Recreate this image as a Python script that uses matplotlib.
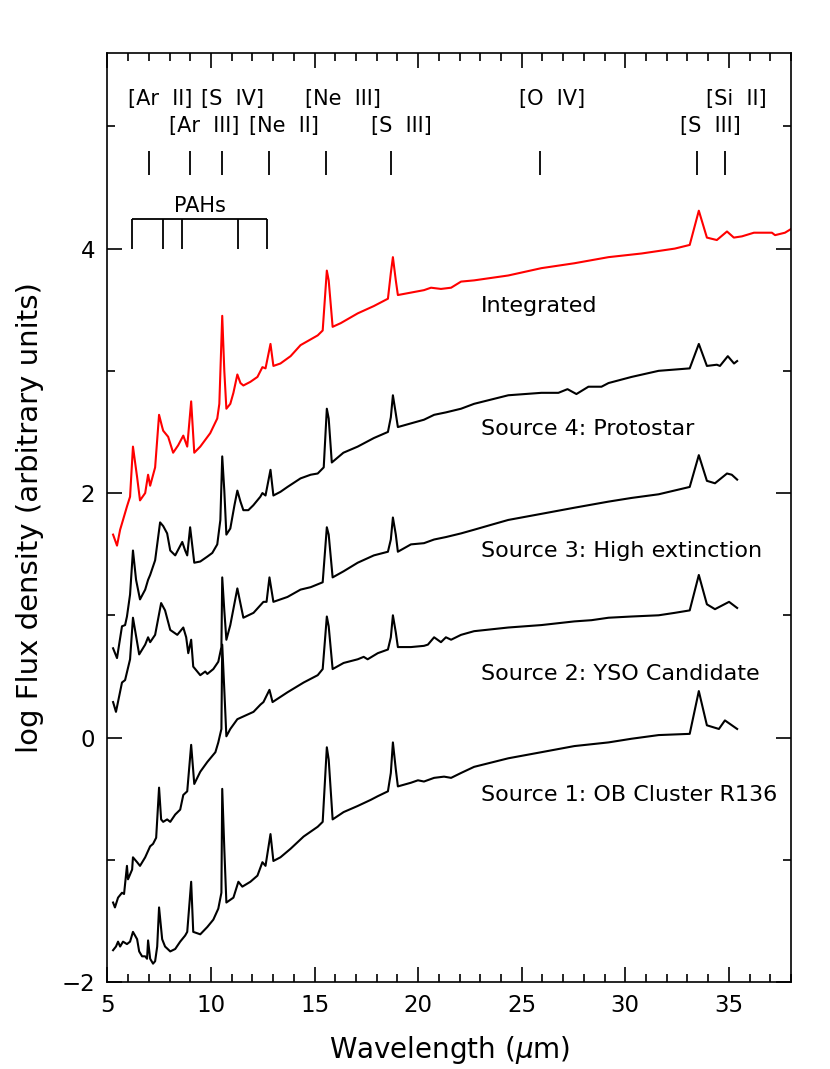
import matplotlib
matplotlib.use('Agg')
import matplotlib.pyplot as plt
from matplotlib.ticker import MultipleLocator

plt.rcParams['font.family'] = 'DejaVu Sans'

# Integrated spectrum (red)
wl_int = [5.27, 5.46, 5.61, 5.75, 5.94, 6.09, 6.23, 6.43, 6.57, 6.82, 6.96, 7.06, 7.30, 7.49, 7.64,
          7.69, 7.93, 8.17, 8.41, 8.66, 8.85, 9.04, 9.19, 9.48, 9.96, 10.30, 10.40, 10.54, 10.64,
          10.74, 10.93, 11.08, 11.27, 11.42, 11.56, 11.90, 12.24, 12.48, 12.63, 12.87, 13.01, 13.35,
          13.84, 14.32, 15.15, 15.39, 15.59, 15.68, 15.87, 16.26, 17.08, 17.86, 18.54, 18.68, 18.78,
          18.92, 19.02, 19.65, 20.28, 20.62, 21.10, 21.59, 22.07, 22.70, 24.35, 25.95, 27.54, 29.19,
          30.79, 32.39, 33.11, 33.55, 33.94, 34.42, 34.91, 35.24, 35.63, 36.21, 37.08, 37.23, 37.71, 38.0]
flux_int = [1.66, 1.57, 1.70, 1.78, 1.89, 1.97, 2.38, 2.13, 1.94, 2.00, 2.15, 2.06, 2.21, 2.64, 2.54,
            2.51, 2.46, 2.33, 2.39, 2.47, 2.38, 2.75, 2.33, 2.38, 2.49, 2.61, 2.73, 3.45, 3.00,
            2.69, 2.73, 2.82, 2.97, 2.90, 2.88, 2.91, 2.95, 3.03, 3.02, 3.22, 3.04, 3.06,
            3.12, 3.21, 3.29, 3.33, 3.82, 3.74, 3.36, 3.39, 3.47, 3.53, 3.59, 3.80, 3.93,
            3.74, 3.62, 3.64, 3.66, 3.68, 3.67, 3.68, 3.73, 3.74, 3.78, 3.84, 3.88, 3.93,
            3.96, 4.00, 4.03, 4.31, 4.09, 4.07, 4.14, 4.09, 4.10, 4.13, 4.13, 4.11, 4.13, 4.16]

# Source 4: Protostar
wl_s4 = [5.27, 5.46, 5.70, 5.85, 5.94, 6.09, 6.23, 6.38, 6.57, 6.82, 6.96, 7.06, 7.30, 7.54, 7.69,
         7.88, 8.03, 8.27, 8.61, 8.75, 8.85, 8.99, 9.19, 9.48, 9.82, 10.06, 10.30, 10.45, 10.54,
         10.64, 10.74, 10.93, 11.13, 11.27, 11.42, 11.56, 11.80, 12.04, 12.38, 12.48, 12.63, 12.87,
         13.01, 13.35, 13.69, 14.32, 14.81, 15.15, 15.44, 15.59, 15.68, 15.83, 16.39, 17.08, 17.86,
         18.54, 18.68, 18.78, 18.92, 19.02, 19.65, 20.28, 20.77, 21.34, 22.07, 22.70, 24.35, 25.95,
         26.77, 27.21, 27.64, 28.22, 28.85, 29.19, 30.30, 31.61, 33.11, 33.55, 33.94, 34.42, 34.57,
         34.95, 35.25, 35.40]
flux_s4 = [0.73, 0.65, 0.91, 0.92, 0.99, 1.17, 1.53, 1.29, 1.13, 1.21, 1.29, 1.33, 1.45, 1.76, 1.73,
           1.67, 1.53, 1.49, 1.60, 1.53, 1.49, 1.72, 1.43, 1.44, 1.48, 1.51, 1.58, 1.78, 2.30,
           2.02, 1.66, 1.71, 1.90, 2.02, 1.93, 1.86, 1.86, 1.90, 1.97, 2.00, 1.98, 2.19,
           1.98, 2.01, 2.05, 2.12, 2.15, 2.16, 2.21, 2.69, 2.61, 2.25, 2.33, 2.38, 2.45,
           2.50, 2.62, 2.80, 2.65, 2.54, 2.57, 2.60, 2.64, 2.66, 2.69, 2.73, 2.80, 2.82,
           2.82, 2.85, 2.81, 2.87, 2.87, 2.90, 2.95, 3.00, 3.02, 3.22, 3.04, 3.05, 3.04,
           3.12, 3.06, 3.08]

# Source 3: High extinction
wl_s3 = [5.27, 5.41, 5.70, 5.85, 6.09, 6.23, 6.53, 6.82, 6.96, 7.06, 7.30, 7.59, 7.78, 8.03, 8.37,
         8.66, 8.80, 8.90, 9.04, 9.14, 9.48, 9.72, 9.82, 10.11, 10.35, 10.50, 10.54, 10.64, 10.74,
         10.93, 11.27, 11.56, 12.05, 12.53, 12.68, 12.82, 13.01, 13.69, 14.32, 14.81, 15.39, 15.59,
         15.68, 15.87, 16.40, 17.08, 17.86, 18.54, 18.68, 18.78, 18.92, 19.02, 19.65, 20.28, 20.77,
         21.34, 22.07, 22.70, 23.52, 24.35, 25.95, 27.54, 29.19, 30.30, 31.61, 33.11, 33.55, 33.94,
         34.33, 34.91, 35.14, 35.40]
flux_s3 = [0.29, 0.21, 0.45, 0.47, 0.64, 0.98, 0.68, 0.76, 0.82, 0.78, 0.84, 1.10, 1.04, 0.88, 0.84,
           0.90, 0.82, 0.69, 0.80, 0.58, 0.51, 0.54, 0.52, 0.56, 0.62, 0.74, 1.31, 1.04, 0.80,
           0.92, 1.22, 0.98, 1.02, 1.11, 1.11, 1.31, 1.11, 1.15, 1.21, 1.23, 1.27, 1.72,
           1.66, 1.31, 1.36, 1.43, 1.49, 1.52, 1.62, 1.80, 1.66, 1.52, 1.58, 1.59, 1.62,
           1.64, 1.67, 1.70, 1.74, 1.78, 1.83, 1.88, 1.93, 1.96, 1.99, 2.05, 2.31, 2.10,
           2.08, 2.16, 2.15, 2.11]

# Source 2: YSO Candidate
wl_s2 = [5.27, 5.36, 5.51, 5.70, 5.80, 5.94, 5.99, 6.19, 6.23, 6.43, 6.57, 6.82, 7.06, 7.20, 7.35,
         7.49, 7.59, 7.69, 7.88, 8.03, 8.27, 8.51, 8.66, 8.85, 9.04, 9.19, 9.48, 9.82, 10.21, 10.35,
         10.50, 10.54, 10.64, 10.74, 10.93, 11.27, 11.66, 12.05, 12.39, 12.53, 12.82, 12.97, 13.69,
         14.47, 15.15, 15.39, 15.59, 15.68, 15.87, 16.40, 17.08, 17.37, 17.56, 18.05, 18.54, 18.68,
         18.78, 18.92, 19.02, 19.65, 20.28, 20.47, 20.77, 21.10, 21.34, 21.59, 22.07, 22.70, 24.35,
         25.95, 27.54, 28.37, 29.19, 30.30, 31.61, 32.39, 33.11, 33.55, 33.94, 34.33, 35.01, 35.40]
flux_s2 = [-1.35, -1.39, -1.31, -1.27, -1.28, -1.05, -1.16, -1.08, -0.98, -1.02, -1.05, -0.98, -0.89, -0.87, -0.82,
           -0.41, -0.67, -0.69, -0.67, -0.69, -0.63, -0.59, -0.47, -0.44, -0.06, -0.38, -0.28, -0.20, -0.12, -0.04,
           0.07, 0.76, 0.39, 0.01, 0.07, 0.15, 0.18, 0.21, 0.27, 0.29, 0.39, 0.29, 0.37,
           0.45, 0.51, 0.56, 0.99, 0.91, 0.56, 0.61, 0.64, 0.66, 0.64, 0.69, 0.72, 0.82,
           1.00, 0.86, 0.74, 0.74, 0.75, 0.76, 0.82, 0.78, 0.82, 0.80, 0.84, 0.87, 0.90,
           0.92, 0.95, 0.96, 0.98, 0.99, 1.00, 1.02, 1.04, 1.33, 1.09, 1.05, 1.11, 1.06]

# Source 1: OB Cluster R136
wl_s1 = [5.27, 5.41, 5.51, 5.61, 5.75, 5.94, 6.09, 6.23, 6.43, 6.53, 6.67, 6.82, 6.91, 6.96, 7.06,
         7.20, 7.30, 7.40, 7.49, 7.64, 7.78, 8.03, 8.27, 8.51, 8.75, 8.85, 9.04, 9.14, 9.48, 9.82,
         10.11, 10.35, 10.50, 10.54, 10.64, 10.74, 11.08, 11.32, 11.51, 11.90, 12.24, 12.48, 12.63,
         12.87, 13.01, 13.35, 13.84, 14.47, 15.15, 15.39, 15.59, 15.68, 15.87, 16.40, 17.08, 17.71,
         18.05, 18.54, 18.68, 18.78, 18.92, 19.02, 19.65, 19.99, 20.28, 20.77, 21.25, 21.59, 22.07,
         22.70, 24.35, 25.95, 27.54, 29.19, 30.30, 31.61, 33.11, 33.55, 33.94, 34.52, 34.81, 35.40]
flux_s1 = [-1.74, -1.71, -1.67, -1.71, -1.67, -1.69, -1.67, -1.59, -1.65, -1.75, -1.79, -1.79, -1.81, -1.66, -1.81,
           -1.85, -1.83, -1.71, -1.39, -1.65, -1.71, -1.75, -1.73, -1.67, -1.62, -1.59, -1.18, -1.59, -1.61, -1.55,
           -1.49, -1.40, -1.27, -0.42, -0.91, -1.35, -1.31, -1.18, -1.22, -1.18, -1.13, -1.02, -1.05,
           -0.79, -1.01, -0.98, -0.91, -0.81, -0.73, -0.69, -0.08, -0.18, -0.67, -0.61, -0.56, -0.51,
           -0.48, -0.44, -0.29, -0.04, -0.26, -0.40, -0.37, -0.35, -0.36, -0.33, -0.32, -0.33, -0.29,
           -0.24, -0.17, -0.12, -0.07, -0.04, -0.01, 0.02, 0.03, 0.38, 0.10, 0.07, 0.14, 0.07]

spec_labels = ['Integrated', 'Source 4: Protostar', 'Source 3: High extinction',
               'Source 2: YSO Candidate', 'Source 1: OB Cluster R136']
spec_label_y = [3.53, 2.52, 1.53, 0.52, -0.47]

# fine-structure lines
line_wl = [6.99, 8.99, 10.51, 12.81, 15.56, 18.71, 25.89, 33.48, 34.82]
line_names = ['[Ar  II]', '[Ar  III]', '[S  IV]', '[Ne  II]', '[Ne  III]', '[S  III]',
              '[O  IV]', '[S  III]', '[Si  II]']
line_label_x = [7.54, 9.67, 11.03, 13.50, 16.36, 19.21, 26.48, 34.13, 35.34]
line_label_y = [5.22, 5.00, 5.22, 5.00, 5.22, 5.00, 5.22, 5.00, 5.22]

pah_wl = [6.2, 7.7, 8.6, 11.3, 12.7]

fig = plt.figure(figsize=(8.3, 10.69), dpi=100)
ax = fig.add_axes([0.1295, 0.0814, 0.8235, 0.869])

ax.plot(wl_int, flux_int, color='red', lw=1.5)
for wl, fl in [(wl_s4, flux_s4), (wl_s3, flux_s3), (wl_s2, flux_s2), (wl_s1, flux_s1)]:
    ax.plot(wl, fl, color='black', lw=1.5)

for lab, yy in zip(spec_labels, spec_label_y):
    ax.text(23.04, yy, lab, fontsize=16, ha='left', va='center')

ax.vlines(line_wl, 4.6, 4.8, color='black', lw=1.3)
for name, xx, yy in zip(line_names, line_label_x, line_label_y):
    ax.text(xx, yy, name, fontsize=15, ha='center', va='center')

ax.hlines(4.245, pah_wl[0], pah_wl[-1], color='black', lw=1.3)
ax.vlines(pah_wl, 4.0, 4.245, color='black', lw=1.3)
ax.text(9.48, 4.35, 'PAHs', fontsize=15, ha='center', va='center')

ax.set_xlim(5, 38)
ax.set_ylim(-2, 5.6)
ax.xaxis.set_major_locator(MultipleLocator(5))
ax.xaxis.set_minor_locator(MultipleLocator(1))
ax.yaxis.set_major_locator(MultipleLocator(2))
ax.yaxis.set_minor_locator(MultipleLocator(1))
ax.tick_params(which='both', direction='in', top=True, right=True, width=1.2, labelsize=16.5, pad=9)
ax.tick_params(which='major', length=11)
ax.tick_params(which='minor', length=5.5)
for sp in ax.spines.values():
    sp.set_linewidth(1.2)

ax.set_xlabel(r'Wavelength ($\mu$m)', fontsize=20)
ax.set_ylabel('log Flux density (arbitrary units)', fontsize=21)
ax.xaxis.set_label_coords(0.5, -0.056)
ax.yaxis.set_label_coords(-0.093, 0.5)

fig.savefig('out.png', dpi=100)
